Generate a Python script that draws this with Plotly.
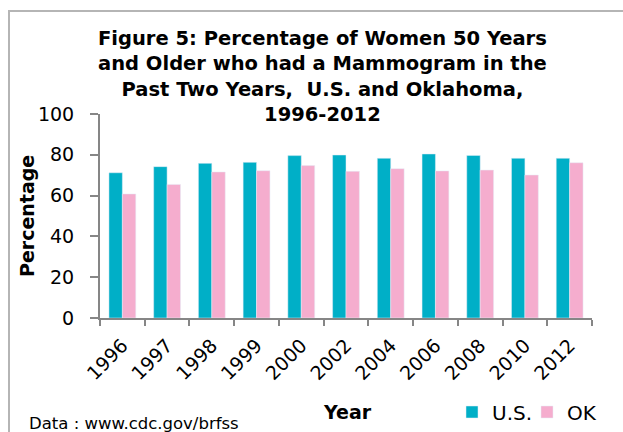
import plotly.graph_objects as go

years = ["1996", "1997", "1998", "1999", "2000", "2002", "2004", "2006", "2008", "2010", "2012"]
us_values = [71.2, 74.2, 75.8, 76.3, 79.6, 79.9, 78.3, 80.4, 79.7, 78.3, 78.3]
ok_values = [60.8, 65.5, 71.6, 72.2, 74.7, 71.9, 73.2, 72.1, 72.5, 70.1, 76.1]
y_ticks = [0, 20, 40, 60, 80, 100]

W, H = 623, 432
L, R, T, B = 100, 592, 114, 318


def px(x):
    return (x - L) / (R - L)


def py(y):
    return (B - y) / (B - T)


FONT = "DejaVu Sans, Liberation Sans, Arial, sans-serif"

fig = go.Figure()
fig.add_trace(go.Bar(x=years, y=us_values, name="U.S.", marker_color="#00AFC7"))
fig.add_trace(go.Bar(x=years, y=ok_values, name="OK", marker_color="#F5ADCE"))

fig.update_layout(
    width=W, height=H,
    margin=dict(l=L, r=W - R, t=T, b=H - B, autoexpand=False),
    paper_bgcolor="white", plot_bgcolor="white",
    barmode="group", bargap=0.4, bargroupgap=0,
    font=dict(family=FONT, size=19, color="black"),
    showlegend=True,
    legend=dict(orientation="h", x=px(452), y=py(412), xanchor="left", yanchor="middle",
                font=dict(size=20, family=FONT, color="black"),
                bgcolor="rgba(0,0,0,0)", itemwidth=30, tracegroupgap=0,
                entrywidth=30, entrywidthmode="pixels"),
)
fig.update_xaxes(
    type="category", tickangle=-45, tickson="boundaries",
    ticks="outside", ticklen=6, tickcolor="#868686", tickwidth=2,
    showline=True, linecolor="#868686", linewidth=2,
    showgrid=False, tickfont=dict(size=19, family=FONT, color="black"),
    ticklabelstandoff=7, automargin=False,
)
fig.update_yaxes(
    range=[0, 100], tickvals=y_ticks, ticks="outside", ticklen=8,
    tickcolor="#868686", tickwidth=2, showline=True, linecolor="#868686", linewidth=2,
    showgrid=False, zeroline=False, tickfont=dict(size=19, family=FONT, color="black"),
    ticklabelstandoff=12, automargin=False,
)

annotations = [
    dict(text="<b>Figure 5: Percentage of Women 50 Years<br>and Older who had a Mammogram in the<br>"
              "Past Two Years,  U.S. and Oklahoma,<br>1996-2012</b>",
         x=px(322), y=py(76), xanchor="center", yanchor="middle",
         font=dict(size=19.5, family=FONT, color="black"), showarrow=False, align="center"),
    dict(text="<b>Percentage</b>", x=px(27), y=py(216), textangle=-90,
         xanchor="center", yanchor="middle", font=dict(size=19, family=FONT, color="black"),
         showarrow=False),
    dict(text="<b>Year</b>", x=px(347), y=py(412), xanchor="center", yanchor="middle",
         font=dict(size=19, family=FONT, color="black"), showarrow=False),
    dict(text="Data : www.cdc.gov/brfss", x=px(27), y=py(423), xanchor="left", yanchor="middle",
         font=dict(size=16.5, family=FONT, color="black"), showarrow=False),
]
for a in annotations:
    a.update(xref="paper", yref="paper")
fig.update_layout(annotations=annotations)

fig.add_shape(type="rect", xref="paper", yref="paper",
              x0=px(9), x1=px(640), y0=py(11), y1=py(450),
              line=dict(color="#B5B5B5", width=2), fillcolor="rgba(0,0,0,0)", layer="below")

fig.write_html("out.html", config={"displayModeBar": False},
               post_script="document.body.style.margin='0';document.body.style.overflow='hidden';")
